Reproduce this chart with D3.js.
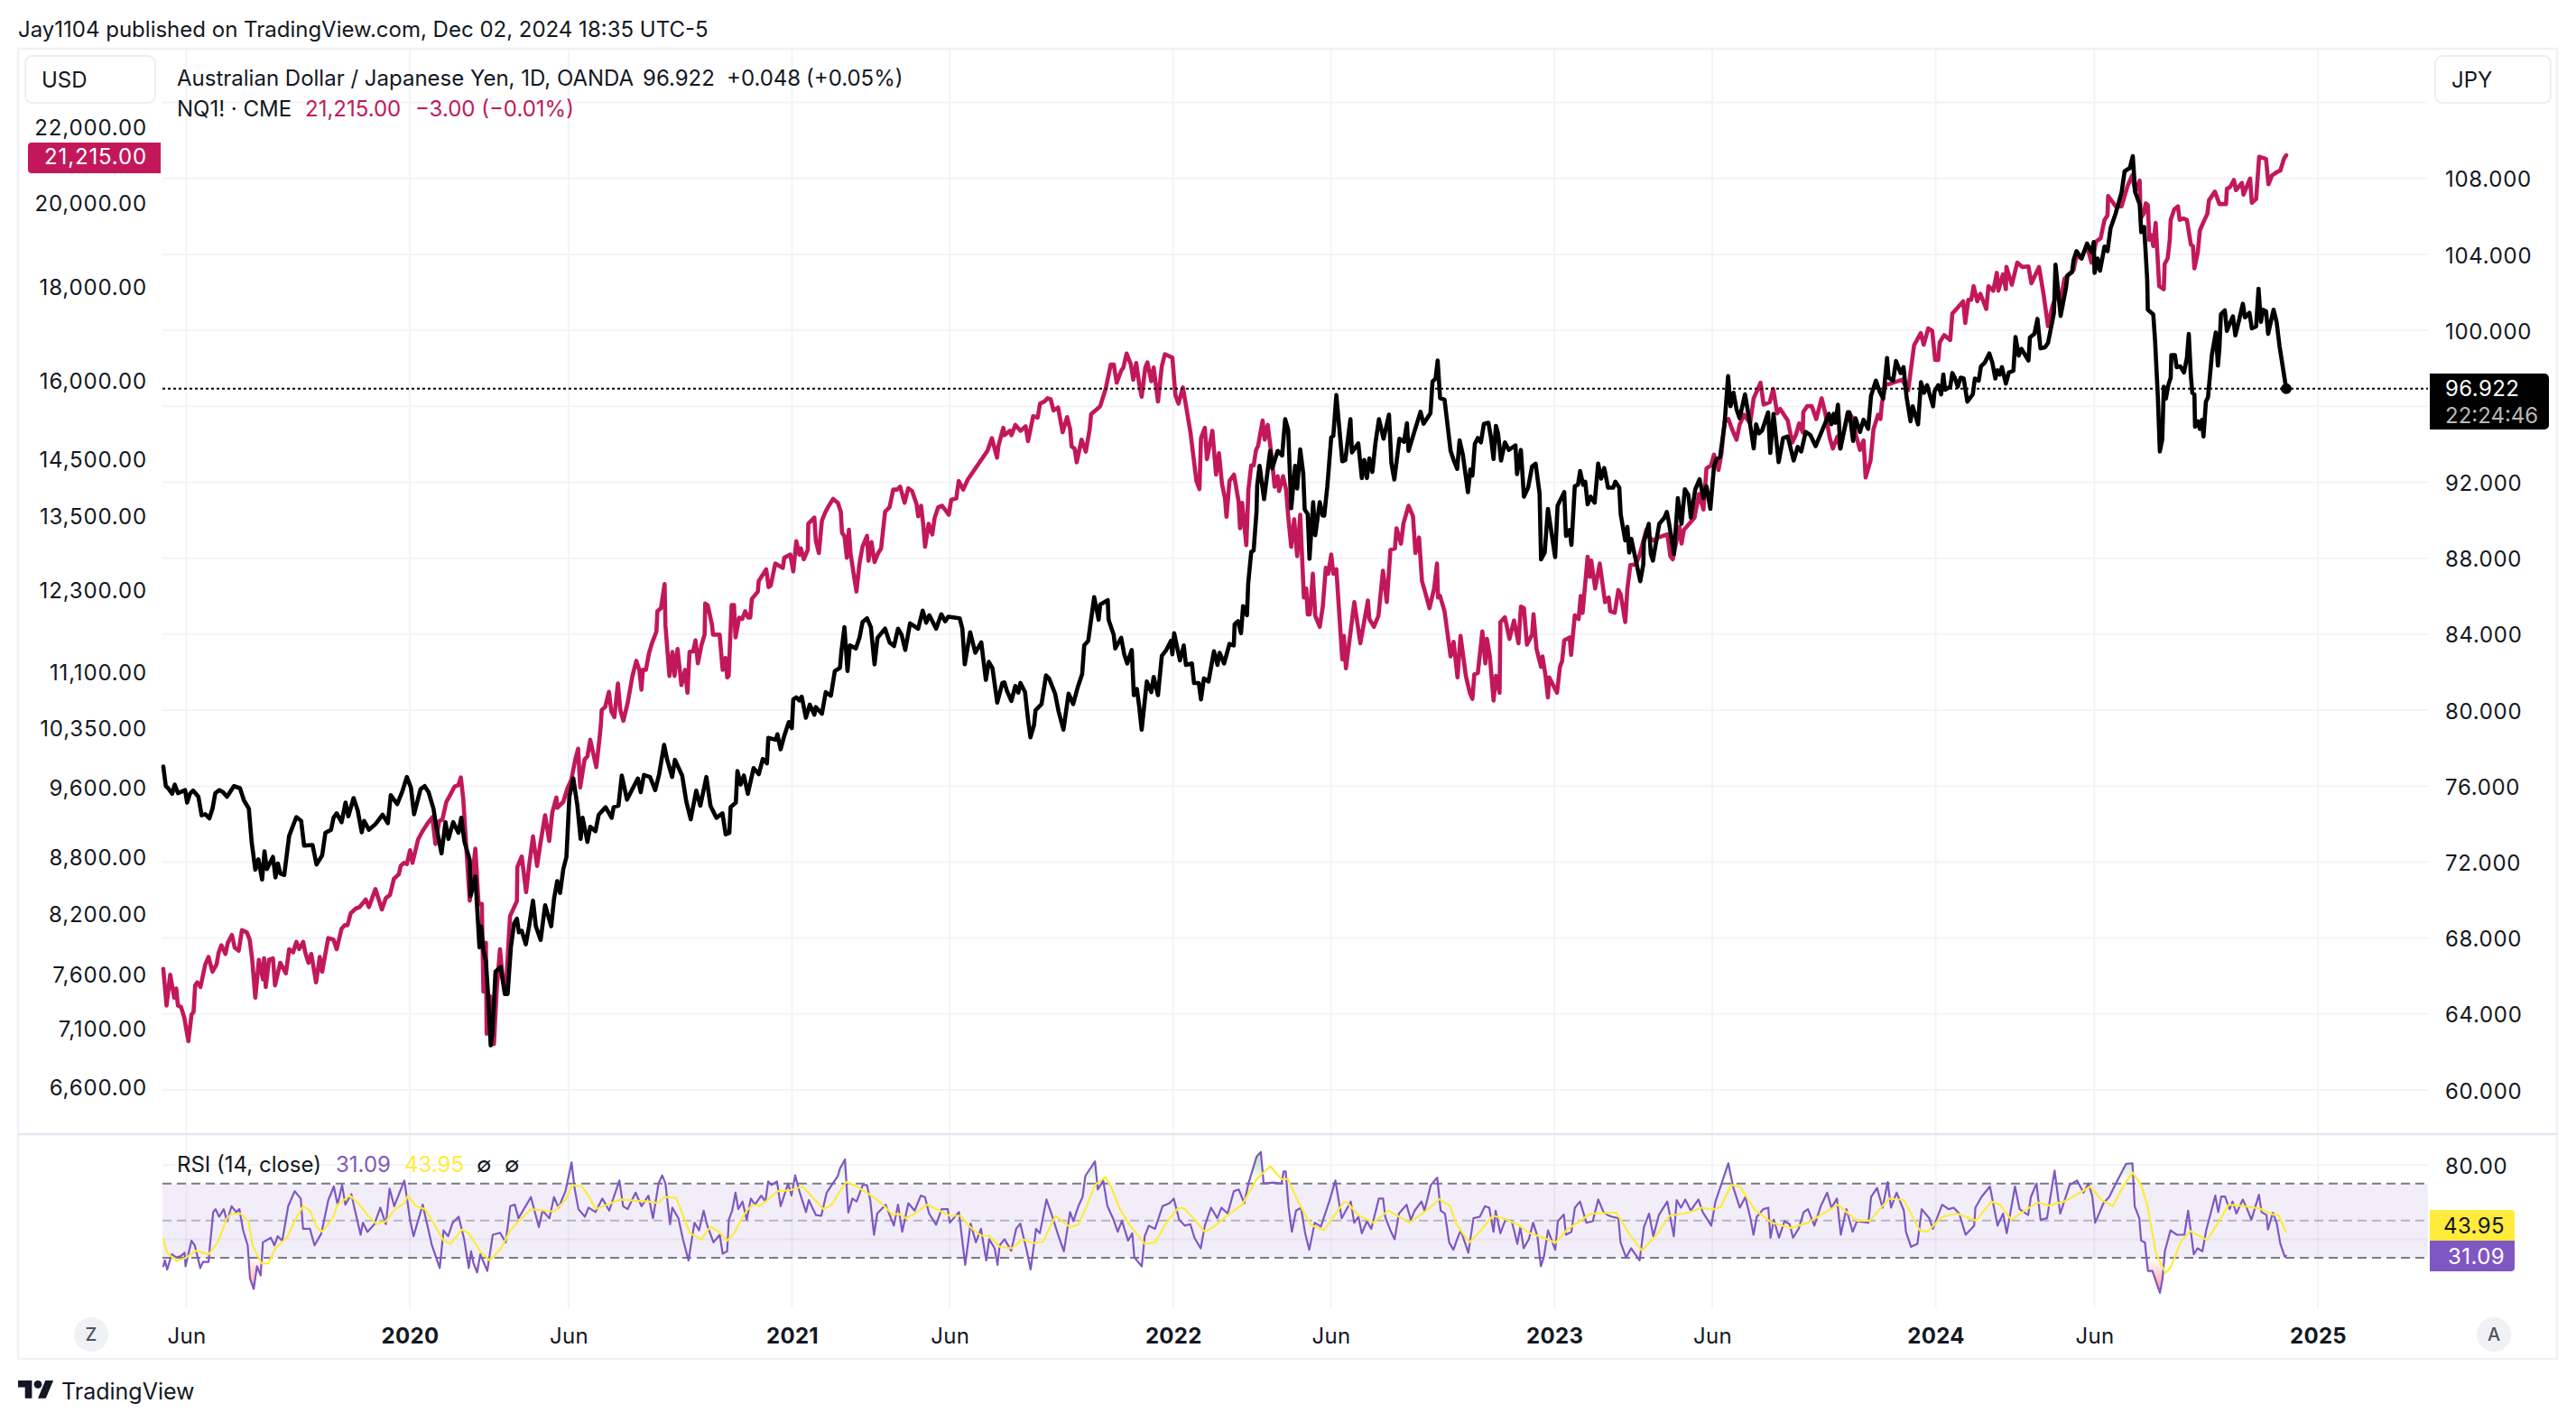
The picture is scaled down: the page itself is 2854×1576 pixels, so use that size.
<!DOCTYPE html>
<html>
<head>
<meta charset="utf-8">
<script src="https://cdn.jsdelivr.net/npm/d3@7"></script>
<style>
  html, body { margin: 0; padding: 0; background: #fff; }
  svg text { font-family: Inter, "Noto Sans", sans-serif; fill: #131722; }
</style>
</head>
<body>
<div id="chart"></div>
<script>
// all series are [days since 2019-05-10, value]
const audjpy = [[0,77.03],[2.4,76],[4.7,75.89],[8.5,75.6],[10.9,76.08],[14,75.63],[20.9,75.79],[22.8,75.13],[25.5,75.6],[28.6,75.76],[33.6,75.44],[36.7,74.46],[40.2,74.52],[44.1,74.3],[47.1,74.81],[49.8,75.63],[53.7,75.79],[57.2,75.68],[61,75.44],[67.6,76],[73.4,75.89],[77.2,75.25],[81.9,74.81],[84.6,73.06],[88.1,71.6],[91.1,72.14],[94.6,71.08],[96.9,72.56],[99.2,71.63],[105,72.27],[107.4,71.19],[109.7,71.92],[112,71.4],[115.8,71.32],[120.5,73.38],[127.4,74.37],[132,74.17],[134.8,72.87],[142.9,72.9],[146.7,71.87],[152.1,72.35],[155.2,73.54],[160.6,73.7],[163,74.33],[166,74.57],[170.7,74.1],[174.5,75.13],[177.2,74.41],[182.2,75.37],[186.1,74.73],[190,73.57],[192.3,74.17],[196.9,73.7],[203.5,74.02],[210,74.49],[215,74.05],[217.8,75.52],[224,75.05],[228.6,75.68],[233.2,76.48],[237.1,75.92],[240.1,74.52],[246.3,75.84],[250.2,76],[254,75.68],[258.7,74.81],[261.4,73.86],[266.4,72.46],[270.2,74.1],[273,73.22],[277.6,74.1],[282.6,73.54],[285.3,74.33],[288.4,73.06],[293.4,72.11],[294.2,70.21],[298.8,71.24],[302.7,67.51],[304.2,68.62],[306.5,67.35],[308.9,66.79],[311.2,64.81],[313.5,62.35],[315,62.9],[318.1,66.24],[323.1,66.48],[327,65.05],[329.7,65.05],[332.8,67.51],[335.9,68.78],[338.6,69.02],[340.5,68.3],[343.2,68.38],[347.1,67.67],[350.2,68.62],[354,69.97],[356.7,68.62],[361.3,67.9],[365.6,69.73],[371.4,68.62],[374.1,70.05],[377.2,71],[379.9,70.37],[383,71.63],[386,72.27],[388.8,75.44],[392.6,76.4],[396.5,74.97],[399.6,73.22],[401.5,74.33],[406.1,73.06],[408.8,73.86],[413.8,73.62],[416.9,74.49],[423.5,74.89],[429.3,74.33],[431.2,74.89],[435.8,74.97],[439,76.56],[444,75.29],[454.4,76.4],[457.1,75.68],[460.2,76.59],[466,76.48],[471,75.79],[474.8,76.63],[479.5,78.17],[482.5,77.38],[487.2,76.48],[489.9,77.38],[496.8,76.56],[500.7,75.21],[505,74.25],[510.3,75.76],[514.2,74.97],[520,76.48],[523.9,74.97],[529.6,74.33],[535.4,74.57],[538.5,73.46],[542,73.54],[543.2,74.89],[548.2,75.13],[549.7,76.79],[552.8,76.08],[555.9,76.56],[559.7,75.6],[565.2,76.95],[570.2,76.63],[574,77.43],[578,77.2],[579.3,78.54],[586.5,78.44],[588,78.73],[591.1,77.94],[594.6,78.65],[598.9,79.37],[601.8,79.05],[603.2,80.56],[606.1,80.67],[609,80.51],[611.3,80.71],[615.3,79.6],[619,80.29],[623.4,79.76],[624.8,80.16],[630.6,79.81],[634.3,80.95],[639.2,80.76],[643,82.06],[647.9,82.22],[649.3,83.1],[652.2,84.37],[655.1,82.06],[657.4,83.41],[663.1,83.25],[666.6,83.81],[669.5,84.63],[673.8,84.84],[677.5,84.37],[681,82.41],[683.9,83.81],[691.1,84.29],[695.4,83.57],[699.7,83.37],[703.5,84.29],[706.9,83.97],[710.4,83.17],[715,84.57],[722.8,84.29],[727.1,85.24],[730.5,84.6],[733.4,85],[740,84.29],[744.9,85.05],[748.7,84.68],[751.6,84.92],[762.5,84.84],[765.1,84.29],[767.4,82.41],[772.6,84.1],[777.5,83.02],[783.2,83.57],[787.6,81.59],[790.4,82.54],[793.9,82.22],[798.5,80.4],[803.4,81.43],[805.4,81.46],[807.7,81.03],[812,80.48],[815.8,81.27],[818.7,80.92],[820.7,81.43],[825.1,80.95],[828,79.52],[830.3,78.57],[833.7,79.21],[835.2,80],[840.9,80.32],[845.2,81.83],[848.1,81.67],[853.9,80.87],[857.3,79.92],[861.9,78.97],[866.8,80.87],[871.2,80.32],[875.5,81.19],[879.8,81.9],[881.8,83.41],[885.6,83.65],[891.3,85.95],[895.6,84.76],[897.1,85.56],[904.3,85.79],[905.1,84.76],[910,83.97],[911.5,83.25],[917.2,83.81],[920.1,82.94],[923,82.46],[927.3,83.17],[929.3,80.79],[932.2,81.11],[934.5,80.16],[936.8,78.97],[941.7,81.51],[946,80.95],[948.3,81.75],[952.4,80.79],[956.1,82.86],[960.4,83.17],[964.8,83.65],[966.2,82.94],[967.9,84.05],[973.4,82.62],[977.1,83.41],[979.2,82.38],[984.9,82.46],[986.9,81.43],[991.5,81.43],[993.6,80.56],[996.4,81.67],[1000.8,81.51],[1006,83.1],[1009.4,82.38],[1011.4,83.02],[1015.7,82.46],[1020.9,83.49],[1025,83.41],[1025.8,84.52],[1029,84.68],[1031.9,84.05],[1033.9,85.48],[1037.6,85],[1038.8,86.67],[1041.7,88.33],[1044,88.41],[1046.8,90.48],[1047.4,91.83],[1049.7,92.86],[1054,91.11],[1059.8,93.65],[1061.8,92.73],[1067,93.65],[1071.3,93.41],[1074.2,95.32],[1077.1,94.76],[1080,90.63],[1083.7,92.86],[1085.7,91.67],[1088.6,93.73],[1091.5,92.46],[1092.9,90.56],[1095.8,90.32],[1097.5,87.97],[1101,90.95],[1103,89.21],[1107.3,90.95],[1110.2,90.24],[1111.6,90.24],[1114.5,91.75],[1118.3,94.37],[1120.3,94.44],[1123.2,96.59],[1128.9,93.1],[1131.8,93.17],[1136.7,95.32],[1138.1,93.57],[1144.2,94.05],[1147.6,92.22],[1149.9,93.17],[1152.5,92.22],[1154.8,93.25],[1157.7,92.54],[1160.6,94.05],[1164,95.32],[1168.4,94.29],[1173.6,95.56],[1175.9,93.02],[1178.7,92.14],[1183.6,94.29],[1188,94.13],[1190.8,95.11],[1192.3,93.65],[1198,94.68],[1203.8,95.71],[1206.7,95.08],[1213.3,95.63],[1215.3,97.3],[1218.2,97.46],[1220.2,98.41],[1222.5,96.43],[1226.8,96.35],[1232.6,93.65],[1235.5,93.17],[1238.9,92.7],[1241.2,94.21],[1244.3,93.46],[1249.2,91.48],[1251.5,92.67],[1253.5,92.35],[1255.8,94.02],[1258.7,94.33],[1261.6,94.1],[1264.5,95.08],[1268.8,95.13],[1271.1,94.41],[1273.7,93.22],[1276,94.97],[1278,94.57],[1280.9,93.14],[1284.6,94.1],[1288.4,93.7],[1294.7,93.94],[1296.2,92.43],[1299.9,93.7],[1302.8,91.24],[1306.8,91.71],[1310.6,92.83],[1314,92.98],[1317.8,91.4],[1319.2,87.94],[1322.7,88.3],[1325.8,90.6],[1332.7,88.06],[1335,90.76],[1341.4,91.48],[1343.1,89.17],[1346.6,89.49],[1348.3,88.7],[1351.5,91.79],[1354.6,91.87],[1356.6,92.59],[1359.5,91.87],[1361.5,92.03],[1363.8,90.84],[1366.7,91.24],[1370.5,90.92],[1373.9,92.98],[1376.8,92.19],[1379.7,92.75],[1383.4,91.71],[1388.3,91.71],[1390.3,92.03],[1394.1,91.71],[1395.5,90.29],[1399.8,88.94],[1401.9,89.65],[1403.6,88.3],[1405.6,89.02],[1414.2,86.79],[1417.1,87.67],[1417.7,88.86],[1422.3,89.81],[1424.3,88.22],[1426.3,87.87],[1432.4,89.81],[1437.3,90.13],[1439.6,90.44],[1441.6,89.89],[1446.5,88.22],[1450.2,91.16],[1453.7,89.81],[1456.9,91.63],[1460.3,91.32],[1462.6,90.13],[1466.9,91.63],[1471,92.16],[1474.7,91.16],[1477.6,91.79],[1481.3,90.6],[1484.8,92.83],[1487.1,93.22],[1490.6,93.33],[1494.9,95.05],[1498.3,97.59],[1500.6,96],[1503.5,96.71],[1506.4,95.84],[1509.3,95.37],[1514.5,96.63],[1519.4,95.05],[1522.8,93.78],[1525.1,95.05],[1528,94.57],[1530.9,94.73],[1536.6,95.68],[1538.7,93.54],[1541.8,95.6],[1546.7,93.06],[1551,94.33],[1555.4,94.41],[1561.1,93.14],[1564.9,93.86],[1568.3,93.62],[1572.6,94.65],[1577,94.49],[1582.1,93.9],[1591.4,95.13],[1594.8,95.6],[1597.1,95.05],[1599.4,95.6],[1600.9,95.13],[1603.5,96.08],[1605.8,93.78],[1613,95.65],[1614.5,95.68],[1618,94.17],[1620.3,95.37],[1624.6,94.65],[1628,95.29],[1632.4,94.81],[1635.2,96.56],[1639.8,97.35],[1643.3,96.79],[1646.8,96.4],[1650.5,98.54],[1652,97.51],[1656.3,97.35],[1659.1,98.38],[1663.5,97.75],[1666.3,98.06],[1669.2,96.48],[1673,95.21],[1675,96],[1680.2,95.05],[1683,97.27],[1685.9,96.71],[1688.8,97.11],[1694.6,96],[1696,96.79],[1699.5,97.11],[1702.3,96.63],[1704.4,97.67],[1706.1,96.87],[1711,97.03],[1713,97.75],[1715.3,97.51],[1718.2,97.03],[1721,97.51],[1723.9,97.46],[1727.4,96.24],[1732.6,96.63],[1734.6,97.46],[1738.3,97.35],[1740.4,98.1],[1744.1,98.3],[1748.4,98.78],[1751.3,98.3],[1754.2,97.46],[1756.2,97.9],[1758.5,97.67],[1760.5,98.06],[1764.3,97.19],[1767.1,97.78],[1771.5,97.87],[1773.5,99.65],[1776.6,98.67],[1779.2,99.02],[1785.9,98.41],[1787.3,99.62],[1791.6,99.81],[1794.5,100.6],[1797.4,99.05],[1801.7,99.1],[1804.6,99.33],[1807.5,100.13],[1810.3,100.92],[1811.8,103.46],[1816.7,100.76],[1821.9,102.27],[1823.3,102.9],[1827.6,103.06],[1829.1,103.7],[1831.9,104.17],[1836.8,103.78],[1842,104.57],[1846.3,104.1],[1848.4,104.65],[1849.2,103.02],[1852.1,103.78],[1854.4,103.14],[1858.7,104.41],[1861.6,104.17],[1864.5,105.37],[1869.4,106.16],[1875.1,107.27],[1878,108.38],[1882.9,108.54],[1885.8,109.17],[1888.1,107.27],[1892.4,106.63],[1893.9,105.17],[1896.7,105.44],[1899.6,102.67],[1900.2,101.08],[1905.4,100.84],[1907.1,99.49],[1909.7,96.63],[1911.7,93.62],[1914,94.25],[1915.5,97.03],[1917.5,96.4],[1919.8,97.11],[1922.1,97.51],[1922.7,98.7],[1926.1,98.7],[1927.8,98.06],[1931.3,98.1],[1934.8,97.78],[1937.6,98.54],[1939.4,99.81],[1941.4,97.59],[1942.8,96.71],[1944.8,96.63],[1945.4,94.92],[1948,95.21],[1950,94.81],[1952,95.29],[1953.5,94.41],[1955.8,96.24],[1957.8,96.48],[1961.5,98.7],[1965.3,99.89],[1967.3,98.14],[1968.7,99.02],[1970.2,100.84],[1973.9,101.05],[1975.9,99.97],[1978.8,100.37],[1981.7,100.73],[1984,99.73],[1987.5,100.52],[1991.2,101.4],[1993.2,100.68],[1997.5,100.92],[1999.8,100.1],[2003.9,100.21],[2006.2,102.19],[2008.5,100.44],[2010.5,101.08],[2013.4,101],[2015.4,99.81],[2020.6,101.08],[2023.5,100.44],[2026.3,99.17],[2032.7,96.922]];

const nq = [[0,7648],[3.1,7304],[6.6,7591],[10.5,7376],[12.4,7462],[14,7304],[17,7290],[20.1,7194],[24,6985],[27,7220],[29,7247],[30.5,7491],[32.5,7519],[35.6,7476],[40.2,7691],[43.3,7763],[47.1,7620],[51,7691],[53,7806],[55.6,7878],[59.5,7792],[61.8,7902],[65.7,7980],[68.4,7854],[72.2,7823],[75.3,8028],[80,8006],[82.7,7933],[85,7749],[88.1,7376],[91.5,7735],[95.4,7548],[96.5,7749],[98.1,7476],[101.2,7735],[105,7749],[107,7491],[112,7706],[117.4,7605],[120.5,7839],[124.3,7808],[127.4,7911],[130.1,7839],[134,7911],[135.9,7808],[139,7706],[141.7,7792],[146.3,7519],[149.8,7763],[152.1,7620],[157.9,7949],[163,7933],[166,7839],[170.7,8043],[173.8,8078],[176.4,8078],[179.5,8201],[184.2,8248],[188,8264],[193.8,8343],[196.9,8264],[203.1,8453],[209.3,8239],[213.1,8358],[217,8390],[220.8,8563],[225.5,8610],[227.4,8705],[230.5,8736],[233.2,8721],[236.3,8874],[238.6,8736],[244,8996],[247.9,9083],[252.5,9169],[257.5,9249],[260.6,8944],[264.1,9204],[267.2,9221],[271,9429],[274.9,9516],[278.7,9610],[282.6,9631],[284.9,9723],[287.2,9464],[290.3,8874],[293.4,8330],[298.8,8892],[301.9,8296],[305,8296],[306.5,7434],[308.9,7902],[309.6,7050],[312.7,7390],[316.6,6959],[319.3,7462],[322.4,7839],[325.1,7548],[328.2,7491],[332,8170],[338.6,8327],[339,8690],[343.2,8805],[347.4,8421],[350.2,8701],[354,9030],[357.9,8701],[361,8944],[365.6,9273],[369.5,8979],[372.5,9308],[376.4,9481],[377.2,9360],[383,9429],[386.8,9585],[390.7,9696],[394.5,9945],[397.2,10079],[399.2,9603],[403.4,9945],[406.1,9983],[408.8,10193],[414.6,9849],[417.7,10212],[418.9,10374],[419.8,10581],[423.2,10623],[426.7,10825],[429,10562],[431.9,10487],[435.3,10938],[437.6,10581],[440.5,10438],[444.8,10686],[449.2,11043],[452.9,11253],[455.8,11127],[457.8,10854],[459.2,11127],[462.1,11127],[465,11358],[467.9,11505],[472.2,11676],[473.1,11976],[476.5,12022],[480,12391],[480.8,11768],[484.6,11043],[487.5,11379],[489.5,11043],[492.4,11421],[496.1,10917],[499.6,11127],[501.9,10812],[503.9,11379],[507.3,11387],[509.6,11547],[511.9,11219],[515.4,11484],[518.3,11630],[518.9,12092],[521.2,12069],[525.5,11768],[526.3,11630],[532.7,11630],[535.6,11127],[538.4,11295],[539.9,11022],[541.3,11043],[544.2,12069],[546.5,12069],[547.9,11589],[551.4,11880],[554.3,11860],[557.2,11976],[560,11880],[562,11880],[563.5,12161],[569.3,12276],[570.1,12438],[577.3,12622],[579.6,12345],[581.6,12368],[586,12714],[593.2,12645],[594.6,12807],[600.4,12858],[603.2,12590],[606.1,13076],[609,12858],[610.4,12959],[613.3,12782],[617.1,12934],[617.6,13365],[623.4,13467],[624.8,13086],[627.7,12883],[630.6,13416],[633.5,13543],[636.4,13645],[641.3,13787],[645.9,13721],[648.7,13568],[649.9,13213],[652.2,13162],[654.5,12807],[656.5,13264],[658,12883],[660.8,12576],[663.7,12276],[666.6,12714],[669.5,12985],[673.8,13162],[675.2,12760],[678.1,13061],[681,12737],[684.5,12883],[687.3,12959],[691.1,13568],[695.4,13645],[698.9,13949],[702.6,13949],[705.5,14000],[709.8,13721],[713.3,13974],[717,13924],[721.3,13695],[722.8,13492],[725.6,13670],[727.7,13340],[729.4,12985],[732.8,13365],[736.3,13187],[738.6,13467],[742,13645],[745.8,13670],[752.1,13517],[754.4,13771],[759.3,13797],[761.6,14102],[765.9,13949],[770.3,14127],[780,14393],[789,14640],[793.4,14879],[798.3,14519],[799.7,14740],[804.3,15073],[805.5,14935],[810.7,15018],[812.1,14935],[815.9,15129],[820.8,15018],[825.7,15101],[828,14824],[832.9,15295],[837.2,15267],[839.5,15538],[843.8,15581],[846.7,15642],[849.6,15624],[852.4,15406],[856.8,15461],[861.1,14990],[865.4,15278],[868.3,15046],[869.7,14725],[872.6,14686],[874.6,14436],[879.2,14851],[883.3,14630],[887,15046],[888.4,15334],[894.2,15434],[897.1,15489],[902.3,15827],[907.2,16318],[910.1,16318],[912.9,15950],[917.2,16195],[919.3,16257],[922.4,16545],[926.5,16318],[928.8,16011],[931.6,16349],[934.5,15919],[936.8,15673],[940.3,16257],[942.3,16361],[946,15980],[948.3,16257],[952.4,15581],[956.1,16287],[959,16533],[966.2,16459],[969.1,15704],[972,15538],[976.3,15857],[983.5,14990],[989.2,14103],[992.1,13959],[993.6,14879],[997.3,15073],[999.3,14492],[1004.5,15018],[1008,14214],[1010.8,14602],[1013.7,14051],[1016.6,13797],[1018,13482],[1020.9,14103],[1025.2,14214],[1029.6,13746],[1031,13289],[1033,13720],[1037,13010],[1039,13949],[1041.7,14380],[1044,14380],[1046.3,14657],[1048.3,14740],[1052.6,15212],[1054.6,14851],[1057.5,15129],[1061.2,14547],[1064.1,14000],[1067,14186],[1068.4,13924],[1072.2,14186],[1075.1,13949],[1077.1,13492],[1080,12985],[1082.8,13441],[1085.7,12832],[1088.6,13517],[1092.1,12184],[1094.4,12322],[1095.8,11930],[1097.8,11930],[1100.7,12553],[1103,11907],[1107.3,11745],[1110.2,12045],[1113.1,12645],[1115.4,12553],[1118.3,12858],[1120.3,12553],[1123.2,12622],[1128.9,11274],[1130.4,11610],[1132.4,11148],[1140.4,12114],[1146.2,11505],[1153.4,12137],[1154.8,11860],[1159.2,11745],[1163.5,11907],[1167.8,12599],[1171.5,12114],[1175,12934],[1179.3,12959],[1180.8,13289],[1185.1,13035],[1187.4,13365],[1192.3,13670],[1196.6,13492],[1198.9,12883],[1202.4,13137],[1205.2,12437],[1208.1,12276],[1212.4,12022],[1216.8,12322],[1219.6,12714],[1220.5,12184],[1222.5,12207],[1226.8,11976],[1232.6,11316],[1235.5,11526],[1239.2,11022],[1242.1,11610],[1247.2,11043],[1251,10812],[1253.5,10728],[1255.3,11064],[1258.7,11085],[1263,11676],[1265.9,11217],[1267.4,11568],[1270.2,11316],[1273.7,10707],[1276,11043],[1279.5,10812],[1280.3,11814],[1284.6,11885],[1289,11568],[1293.3,11837],[1297.6,11505],[1299.9,12045],[1302.8,12022],[1305.7,11484],[1310.6,11630],[1312,11930],[1314.9,11421],[1319.2,11169],[1320.6,11316],[1323.5,11043],[1325.8,10749],[1327,11022],[1334.5,10812],[1337.3,11169],[1339.4,11253],[1341.4,11547],[1346.6,11589],[1348,11337],[1351.5,11915],[1355.2,11860],[1357.2,12206],[1359,11953],[1363.8,12822],[1365.9,12506],[1367.3,12760],[1371,12322],[1375.4,12714],[1380.5,12114],[1384,12184],[1385.4,11976],[1389.8,11953],[1393.2,12299],[1395.5,12230],[1399.8,11814],[1401.9,12322],[1404.7,12691],[1409.9,12700],[1413.7,12858],[1420,13264],[1422.9,13137],[1427.2,13086],[1431.5,13137],[1440.2,13188],[1443,12832],[1445.3,12782],[1451.7,13315],[1453.7,13036],[1456,13264],[1466.1,13467],[1470.4,13873],[1474.7,13605],[1477.6,14325],[1481.9,14380],[1484.8,14574],[1489.1,14297],[1492,14602],[1494.9,15184],[1498.6,15239],[1502.1,15046],[1506.4,14851],[1509.3,15129],[1513.6,15323],[1519.4,15157],[1522.8,15642],[1529.4,15950],[1532.3,15520],[1538.1,15563],[1541.5,15827],[1545.3,15350],[1548.2,15434],[1555.4,15212],[1559.7,14796],[1563.1,14935],[1566.3,15157],[1569.8,14990],[1570.3,15378],[1574.1,15489],[1578.4,15489],[1582.7,15240],[1587.9,15642],[1591.4,15350],[1595.7,14879],[1598.6,14686],[1602.9,14907],[1605.8,14686],[1613,15378],[1617.4,15268],[1620.3,14965],[1624.6,14662],[1628,14838],[1630,14164],[1634.7,14468],[1637.5,15047],[1641.9,15323],[1644.2,15241],[1645.6,15550],[1649.1,15919],[1652,15919],[1664.9,16011],[1670.7,15796],[1676.4,16717],[1682.8,16975],[1685.6,16729],[1690,17077],[1693.7,17024],[1696.6,16410],[1699.5,16410],[1700.9,16778],[1705.2,16932],[1711,16827],[1713,17394],[1719.6,17563],[1723.4,17665],[1725.4,17191],[1728.3,17699],[1731.1,17699],[1733.4,18003],[1736.9,17665],[1739.8,17834],[1745.5,17496],[1747.6,18003],[1752.2,17901],[1755.6,18306],[1757.1,17901],[1761.4,18273],[1764.3,17935],[1764.8,18442],[1770,18036],[1775.2,18543],[1780.1,18442],[1785.9,18455],[1788.7,18070],[1796,18442],[1800.3,17834],[1804.6,17124],[1808.9,17563],[1813.2,17834],[1816.1,17630],[1820.4,18171],[1829.1,18374],[1832,18712],[1836.3,18645],[1842,18932],[1846.3,18543],[1850.7,19044],[1855,19119],[1858.7,19564],[1861.6,19676],[1862.2,20159],[1869.4,19899],[1875.1,19899],[1880.9,20419],[1885.2,20686],[1888.1,20270],[1892.4,20553],[1893.3,19601],[1896.2,19713],[1898.2,19973],[1900.2,19936],[1901.6,19081],[1903.9,19192],[1905.4,18932],[1907.7,19490],[1911.1,18003],[1915.5,17935],[1916.3,18509],[1919.2,18645],[1921.2,19081],[1922.1,19564],[1925.5,19824],[1929,19899],[1930.7,19564],[1934.2,19601],[1937.6,19564],[1941.4,18969],[1943.4,18932],[1944.8,18408],[1948,18784],[1950,19304],[1953.8,19527],[1957.2,19713],[1958.7,20047],[1964.4,20270],[1968.7,19958],[1975.1,19958],[1975.9,20344],[1978.8,20382],[1982.6,20567],[1984.6,20307],[1990.3,20493],[1991.8,20196],[1998.1,20605],[1999.8,19988],[2003.9,20084],[2006.8,21175],[2013.4,21118],[2015.7,20456],[2019.1,20686],[2023.5,20767],[2027,20808],[2030.7,21135],[2032.7,21215]];

const rsi = [[0,25.4],[1.5,28.6],[3.7,23.7],[8.1,31.9],[12.5,30.2],[16.9,31],[20.4,32.7],[21.3,25.4],[27,39.2],[30.1,36.7],[35.4,24.5],[38.1,27.8],[43.4,27.8],[44.7,36.7],[47.8,54.6],[50,56.2],[53.5,52.1],[57.9,56.2],[61,49.7],[65.4,57.8],[69.8,54.6],[72.9,56.2],[76.4,44.8],[80.8,36.7],[83,18.9],[86.6,13.2],[89.7,25.4],[93.2,20.5],[95.4,38.3],[102.9,40.8],[106.4,36.7],[109.5,41.6],[113.9,39.2],[119.6,57.8],[125.8,65.9],[131.6,61.9],[133.8,45.6],[140.4,45.6],[144.8,36.7],[151.4,43.2],[158,61.1],[163.3,68.4],[166.8,58.6],[171.2,69.2],[174.3,58.6],[180,64.3],[188.9,42.4],[191.1,48.9],[195.5,44],[202.1,48.1],[207.8,57],[213.1,48.1],[216.7,67.2],[221.1,57.8],[230.8,71.6],[236.5,49.7],[239.6,41.6],[248.4,58.6],[257.2,36.7],[264.7,24.5],[268.3,44.8],[272.7,41.6],[277.1,48.9],[282.8,52.1],[288.1,40],[292.5,24.5],[294.7,33.5],[297,27],[300.5,22.1],[303.5,31.9],[310.2,22.9],[315.5,42.4],[322.5,43.5],[327.8,38.3],[332.2,57.8],[336.6,58.6],[340.1,51.3],[352,62.7],[359.6,46.5],[363.1,55.4],[369.7,51.3],[374.1,62.7],[378.5,57],[385.1,65.9],[390.9,81.4],[394,66.8],[397.5,56.2],[403.7,52.1],[407.2,57],[413.8,54.6],[420.4,61.9],[427,55.4],[436.7,71.6],[440.3,57.8],[444.7,56.2],[452.2,65.1],[457.9,57.8],[464.5,63.5],[468.9,51.3],[474.2,70],[477.7,74.4],[480.8,70],[485.2,48.1],[487.4,57],[493.2,51.3],[497.6,40],[502.9,28.6],[508.6,48.9],[513,44.8],[517.4,55.4],[520.9,47.3],[526.8,38.3],[532.8,42.4],[535.6,32.2],[539.9,33.5],[541.5,50.5],[544.7,55.4],[547.9,65.1],[550.6,56.2],[554.6,60.3],[558.6,50.5],[562.6,61.9],[566.5,58.6],[572.5,63.5],[576.5,60.3],[579.2,71.1],[582.4,69.2],[587.6,71.1],[591.1,57.8],[598.3,70],[601.5,63.5],[605,74.4],[609,65.9],[615.4,54.6],[618.1,61.1],[622.1,56.2],[624.9,53],[630,52.6],[635.2,65.1],[640,69.2],[645.9,74.1],[647.9,78.1],[652.7,83],[655.9,54.3],[659.8,61.9],[663.8,60.3],[669.7,69.2],[673.7,69.2],[676.9,61.1],[680.5,42.4],[683.6,53.8],[691.6,58.6],[699.5,47.3],[703.5,58.6],[707.5,44],[713.4,59.4],[719.4,55.4],[725.3,63.5],[729.3,62.7],[733.3,53.8],[740,47.8],[745.2,56.2],[751.1,56.2],[753.1,48.9],[761.8,54.6],[767.8,26.2],[773,48.4],[778.1,38.3],[782.9,45.6],[788,28.6],[790.8,40],[796,35.1],[798.8,26.2],[800.8,36.7],[805.5,40],[811.9,33.8],[816.6,45.6],[820.6,48.4],[826.6,34.3],[830.5,23.7],[835.7,45.6],[839.3,43.2],[845.6,61.4],[850.4,53.8],[856.3,43.2],[862.3,33.5],[868.2,54.6],[871.4,49.7],[876.2,57.8],[880.2,62.7],[882.9,74.1],[892.1,81.9],[894.8,66.8],[900,71.6],[904,57.8],[909.9,50.5],[913.9,44],[917.9,50],[923.8,39.2],[927.8,43.2],[929.8,30.2],[936.9,25.4],[939.7,41.6],[943.7,47.3],[949.6,45.6],[956.8,57.8],[963.5,59.4],[967.5,61.9],[972.7,50.5],[978.2,47.3],[983.4,48.1],[987.3,40.8],[993.3,35.1],[997.3,47.3],[1003.2,57],[1009.2,51.3],[1013.2,57],[1019.1,53.8],[1025.1,65.9],[1029.8,66.8],[1035,59.4],[1039,70],[1046.9,84.6],[1050.9,87],[1053.6,70],[1062.8,70.5],[1070.7,70],[1072.7,76.5],[1074.7,76.5],[1077.5,57],[1080.6,44],[1084.6,55.4],[1089.4,57],[1093.3,43.2],[1097.3,34.3],[1102.5,48.9],[1108.4,46.8],[1116.4,60.3],[1122.3,71.6],[1128.3,51.3],[1137,60.3],[1140.3,48.9],[1144.3,52.1],[1147.6,43.2],[1152.5,49.7],[1156.6,45.6],[1163.9,61.9],[1168,61.9],[1170,52.1],[1174.9,44.8],[1179,40],[1183.1,53.8],[1190.4,58.6],[1194.5,50.5],[1198.2,55.4],[1204.7,60.3],[1207.6,55.4],[1213.7,69.2],[1219.8,73.2],[1223.1,55.4],[1227.2,53.8],[1231.2,38.3],[1235.3,34.3],[1239.4,40.8],[1242.3,44.8],[1249.6,32.7],[1254.5,51.3],[1260.6,52.1],[1265.5,57.8],[1269.6,57],[1273.7,44],[1275.7,55.4],[1280.2,43.2],[1285.1,50.5],[1291.2,49.7],[1296.5,37.5],[1299.4,46.5],[1302.6,35.1],[1307.5,40],[1311.6,48.9],[1315.7,41.6],[1319,25.4],[1321.8,30.2],[1325.9,44.8],[1332.8,34.3],[1335.3,49.7],[1341,53.3],[1343,42.4],[1348.3,44],[1351.6,57],[1356.5,60.3],[1362.6,48.9],[1368.7,49.7],[1374,61.4],[1379,54.6],[1383,53],[1387.1,52.1],[1393.2,51.3],[1395.3,38.3],[1400.6,30.2],[1405.5,35.1],[1413.6,28.6],[1417.7,46.5],[1422.6,53.8],[1426.7,41.6],[1432,53],[1440.1,60.3],[1446.3,41.6],[1449.1,61.1],[1453.2,57],[1457.3,61.4],[1462.6,55.4],[1469.9,61.4],[1474,54.6],[1482.2,47.3],[1486.2,60.3],[1491.1,68.4],[1498.5,80.9],[1503.4,67.6],[1509.5,57],[1514.8,62.7],[1519.7,51.3],[1522.6,42.4],[1525.8,52.1],[1532,56.2],[1536.8,57],[1538.9,40.8],[1542.1,50.5],[1547,40.8],[1552.3,49.7],[1557.2,48.1],[1560.5,40.8],[1565.8,45.6],[1570.7,54.6],[1574.8,56.2],[1580.9,47.3],[1587,57.8],[1593.2,65.1],[1597.2,57],[1602.5,61.9],[1606.2,42.4],[1611.5,56.2],[1617.6,44],[1621.7,49.7],[1632.7,48.9],[1635.2,62.7],[1640.9,67.6],[1646.2,57],[1651.1,70.8],[1654.3,57],[1659.6,65.1],[1666.6,55.4],[1668.6,44],[1673.5,35.9],[1679.6,37.5],[1683.7,56.2],[1691,51.3],[1694.3,45.6],[1703.3,58.6],[1709.4,56.2],[1714.3,57],[1719.6,53.8],[1725.7,42.4],[1733.9,47.3],[1735.1,57],[1740.8,62.7],[1749,68.4],[1756.3,47.3],[1761.6,53.8],[1765.1,43.2],[1773,68.4],[1777.4,56.2],[1785.6,53],[1788.2,62.7],[1793.6,70],[1797.5,50.5],[1803.7,51.3],[1810.9,77],[1816.3,53.8],[1825.3,69.2],[1832.5,71.6],[1838.6,65.1],[1843.3,70],[1846.9,63.5],[1849.8,48.9],[1854.1,54.6],[1857.7,59.4],[1863.1,62.7],[1870.3,70.8],[1879.3,80.6],[1885.5,80.9],[1887.6,57.8],[1892,51.3],[1893.8,39.2],[1897.4,38.3],[1900.3,22.9],[1904.6,22.9],[1911.8,11.1],[1914.3,18.9],[1916.5,33.5],[1921.9,44.8],[1928,42.4],[1935.2,42.4],[1938.8,55.4],[1944.2,31.9],[1947.8,35.1],[1952.5,33.5],[1956.1,44.8],[1964.8,63.5],[1967.6,54.6],[1970.5,63],[1974.1,63],[1978.5,56.2],[1981.3,60.3],[1985,53.8],[1991.1,61.4],[1994.7,57],[1999.4,50.5],[2006.6,64],[2009.1,54.6],[2013.8,53],[2015.2,45.2],[2019.9,54.3],[2023.5,48.9],[2027.1,37.5],[2031.4,30.6],[2032.5,31.09]];

const rsiSignal = [[0,40],[3.7,32.7],[12.5,28.3],[21.3,29.9],[31.4,33.8],[43.4,31.9],[52.2,38.3],[61,51.3],[65.4,53.8],[74.2,53.8],[81.7,49.7],[85.3,36.7],[94.1,27],[100.7,27],[107.3,35.1],[118.3,40.8],[127.1,51.3],[133.8,57.8],[140.4,55.4],[147,46.5],[152.3,44],[162.4,51.3],[166.8,58.6],[178.7,63.5],[186.7,59.4],[195.5,53],[204.3,48.1],[213.1,49.7],[221.9,56.2],[230.8,59.4],[234.3,63.5],[241.8,57.8],[250.6,56.2],[259.4,48.1],[268.3,39.2],[274.9,37.5],[285.9,45.2],[292.5,43.2],[303.5,33.5],[312.4,28.6],[323.4,35.1],[332.2,44.8],[343.2,51.3],[352,56.2],[365.3,55.4],[374.1,54.9],[385.1,61.1],[391.7,69.2],[400.6,68.4],[407.2,63.5],[413.8,56.2],[424.8,58.6],[438,61.4],[453.5,60.7],[464.5,60.3],[473.3,59.4],[479.9,62.7],[490.9,62.4],[497.6,53],[504.2,43.2],[515.2,40],[524,46.8],[532,44],[539.9,39.2],[546.7,43.2],[552.6,49.7],[558.6,55.4],[564.5,58.6],[570.5,57.8],[578.4,61.1],[588.4,65.9],[600.3,66.4],[612.2,68.4],[620.1,63.5],[632,56.2],[640,58.6],[647.9,65.9],[653.9,70.8],[663.8,68.4],[675.7,64.3],[687.6,59.4],[698.7,53],[703.5,53.8],[711.4,51.3],[719.4,53.8],[731.3,58.6],[743.2,55.4],[753.1,52.6],[763.8,52.6],[771,47.3],[782.9,41.9],[790.8,41.9],[800.8,35.9],[812.7,35.1],[822.6,40],[832.5,37.9],[842.4,38.7],[854.4,52.6],[868.2,46.5],[876.2,47.8],[884.1,57.8],[892.1,69.2],[902,73.6],[907.9,67.6],[915.9,56.2],[925.8,47.3],[939.7,37.5],[949.6,38.3],[959.6,48.1],[971.5,56.7],[977.4,56.7],[987.3,50.5],[997.3,44],[1007.2,47.3],[1019.1,53],[1033,58.6],[1046.9,72.4],[1060,79.3],[1070.7,72.4],[1076.7,72.4],[1086.6,60.3],[1098.5,47.8],[1111.2,44.8],[1120.4,52.1],[1130.3,59.9],[1133.3,59.9],[1144.3,53],[1158.6,48.9],[1172.9,55.4],[1193.3,48.9],[1207.6,54.6],[1221.9,61.6],[1232.1,57.8],[1238.2,48.1],[1250.4,38.3],[1260.6,44],[1272.9,52.6],[1283.1,51.3],[1297.3,47.8],[1307.5,43.5],[1321.8,40.8],[1332.8,38],[1344.3,45.2],[1366.7,53.8],[1391.2,54.3],[1403.4,43.2],[1415.7,33.8],[1429.9,42.4],[1442.2,52.6],[1460.5,54.3],[1472.8,57],[1483,55.9],[1491.1,57.3],[1501.3,69.2],[1509.5,68.4],[1523.8,55.9],[1540.1,48.9],[1558.5,46.1],[1574.8,48.9],[1603.3,58.6],[1621.7,50],[1633.9,50],[1652.3,61.9],[1666.6,61.1],[1681.7,44.8],[1689,44],[1703.3,52.1],[1717.6,53.8],[1736,50],[1750.2,60.3],[1758.6,58.6],[1769.4,50.5],[1780.2,54.6],[1794.7,59.8],[1805.5,58.1],[1819.9,60.3],[1830.7,63.5],[1845.1,68.4],[1855.9,61.1],[1866.7,57.8],[1875.7,67.6],[1885.5,76],[1893.8,69.2],[1899.9,57.8],[1908.2,31.9],[1917.2,21.8],[1922.6,25.4],[1931.6,38.3],[1940.6,44.5],[1956.8,39.6],[1964,45.6],[1977.7,58.6],[1996.5,57.5],[2007.3,56.5],[2019.9,53.3],[2025.3,53],[2032.5,43.95]];

const jpyGrid = [112,108,104,100,96,92,88,84,80,76,72,68,64,60];
// 96.000 sits behind the last-price tag in the reference, so it gets no label
const jpyTicks = [112,108,104,100,92,88,84,80,76,72,68,64,60];
const usdTicks = [22000,20000,18000,16000,14500,13500,12300,11100,10350,9600,8800,8200,7600,7100,6600];
const rsiTicks = [80];
const rsiGrid = [80,40];
const timeTicks = ["2019-06-01","2020-01-01","2020-06-01","2021-01-01","2021-06-01","2022-01-01","2022-06-01","2023-01-01","2023-06-01","2024-01-01","2024-06-01","2025-01-01"];

const WIDTH = 2854, HEIGHT = 1576;
const plot = {left: 180, right: 2690};
const INK = "#131722", PINK = "#c2185b", PURPLE = "#7e57c2", YELLOW = "#ffeb3b", GRID = "#f3f4f6", FRAME = "#eff1f5";

const startDate = Date.UTC(2019, 4, 10);
const dateOf = d => new Date(startDate + d * 864e5);

const x = d3.scaleUtc()
    .domain([new Date("2020-01-01"), new Date("2025-01-01")])
    .range([454, 2568]);
const yJpy = d3.scaleLinear().domain([60, 108]).range([1208, 197.7]);
const yUsd = d3.scaleLog().domain([6600, 22000]).range([1204, 140]);
const yRsi = d3.scaleLinear().domain([30, 70]).range([1394, 1311.7]);

const svg = d3.select("#chart").append("svg")
    .attr("width", WIDTH)
    .attr("height", HEIGHT)
    .style("display", "block");

const defs = svg.append("defs");
const gradient = (id, y1, y2, stops) => {
    const g = defs.append("linearGradient").attr("id", id).attr("gradientUnits", "userSpaceOnUse")
        .attr("x1", 0).attr("x2", 0).attr("y1", y1).attr("y2", y2);
    stops.forEach(([o, c, a]) => g.append("stop").attr("offset", o).attr("stop-color", c).attr("stop-opacity", a));
};
gradient("overbought", yRsi(88), yRsi(70), [[0, "#4caf50", 0.4], [1, "#4caf50", 0]]);
gradient("oversold", yRsi(30), yRsi(11), [[0, "#ff5252", 0], [1, "#ff5252", 0.6]]);
defs.append("clipPath").attr("id", "clip-over").append("rect")
    .attr("x", plot.left).attr("width", plot.right - plot.left).attr("y", 1258).attr("height", yRsi(70) - 1258);
defs.append("clipPath").attr("id", "clip-under").append("rect")
    .attr("x", plot.left).attr("width", plot.right - plot.left).attr("y", yRsi(30)).attr("height", 1450 - yRsi(30));

// grid
const hLine = (y, color, width) => svg.append("line")
    .attr("x1", plot.left).attr("x2", plot.right).attr("y1", y).attr("y2", y)
    .attr("stroke", color).attr("stroke-width", width);

jpyGrid.forEach(t => hLine(yJpy(t), GRID, 2));

svg.append("g").selectAll("line")
    .data(timeTicks)
    .join("line")
    .attr("x1", d => x(new Date(d))).attr("x2", d => x(new Date(d)))
    .attr("y1", 54).attr("y2", 1450)
    .attr("stroke", GRID).attr("stroke-width", 2);

// rsi band
svg.append("rect")
    .attr("x", plot.left).attr("width", plot.right - plot.left)
    .attr("y", yRsi(70)).attr("height", yRsi(30) - yRsi(70))
    .attr("fill", PURPLE).attr("fill-opacity", 0.1);
rsiGrid.forEach(t => hLine(yRsi(t), t === 80 ? GRID : "rgba(42,46,57,0.06)", 2));
hLine(yRsi(70), "#787b86", 2).attr("stroke-dasharray", "10 6");
hLine(yRsi(50), "#787b86", 2).attr("stroke-opacity", 0.5).attr("stroke-dasharray", "10 6");
hLine(yRsi(30), "#787b86", 2).attr("stroke-dasharray", "10 6");

// frame
svg.append("rect")
    .attr("x", 20).attr("y", 54).attr("width", 2813).attr("height", 1452)
    .attr("fill", "none").attr("stroke", FRAME).attr("stroke-width", 2.5);
svg.append("line")
    .attr("x1", 20).attr("x2", 2833).attr("y1", 1257).attr("y2", 1257)
    .attr("stroke", "#e3e6ee").attr("stroke-width", 2.5);

// axes
const styleAxis = (g, size, spacing) => {
    g.select(".domain").remove();
    g.selectAll("text").attr("dy", "0.38em").style("font-size", size + "px").style("letter-spacing", spacing + "px");
};
const FS = 24;

svg.append("g")
    .attr("transform", "translate(173,0)")
    .call(d3.axisLeft(yUsd).tickValues(usdTicks).tickSize(0).tickPadding(10).tickFormat(d3.format(",.2f")))
    .call(g => styleAxis(g, FS, 0.85));

svg.append("g")
    .attr("transform", `translate(${plot.right},0)`)
    .call(d3.axisRight(yJpy).tickValues(jpyTicks).tickSize(0).tickPadding(19).tickFormat(d3.format(".3f")))
    .call(g => styleAxis(g, FS, 0.7));

// 112.000 is hidden behind the JPY button apart from its last pixels
svg.append("rect").attr("x", plot.right + 2).attr("y", 56).attr("width", 140).attr("height", 67.5).attr("fill", "#fff");

svg.append("g")
    .attr("transform", `translate(${plot.right},0)`)
    .call(d3.axisRight(yRsi).tickValues(rsiTicks).tickSize(0).tickPadding(19).tickFormat(d3.format(".2f")))
    .call(g => styleAxis(g, FS, 0.7));

svg.append("g")
    .attr("transform", "translate(0,1476)")
    .call(d3.axisBottom(x).tickValues(timeTicks.map(d => new Date(d))).tickSize(0).tickPadding(0)
        .tickFormat(d => d.getUTCMonth() === 0 ? d3.utcFormat("%Y")(d) : d3.utcFormat("%b")(d)))
    .call(g => styleAxis(g, FS, 0.3))
    .call(g => g.selectAll("text")
        .attr("y", 0).attr("dy", "0.55em")
        .style("font-weight", d => d.getUTCMonth() === 0 ? 700 : 400));

// series
const seriesLine = (scale) => d3.line().x(d => x(dateOf(d[0]))).y(d => scale(d[1]));

const drawSeries = (data, scale, color, width) => svg.append("path")
    .datum(data)
    .attr("fill", "none")
    .attr("stroke", color)
    .attr("stroke-width", width)
    .attr("stroke-linejoin", "round")
    .attr("stroke-linecap", "round")
    .attr("d", seriesLine(scale));

// overbought / oversold shading
const rsiArea = level => d3.area().x(d => x(dateOf(d[0]))).y0(yRsi(level)).y1(d => yRsi(d[1]));
svg.append("path").datum(rsi).attr("clip-path", "url(#clip-over)")
    .attr("fill", "url(#overbought)").attr("d", rsiArea(70));
svg.append("path").datum(rsi).attr("clip-path", "url(#clip-under)")
    .attr("fill", "url(#oversold)").attr("d", rsiArea(30));

drawSeries(rsi, yRsi, PURPLE, 2.2);
drawSeries(rsiSignal, yRsi, YELLOW, 2.2);
drawSeries(nq, yUsd, PINK, 4.6);

const last = audjpy[audjpy.length - 1];
svg.append("line")
    .attr("x1", plot.left).attr("x2", plot.right)
    .attr("y1", yJpy(last[1])).attr("y2", yJpy(last[1]))
    .attr("stroke", "#000").attr("stroke-width", 2).attr("stroke-dasharray", "3 3");
drawSeries(audjpy, yJpy, "#000", 4.6);
svg.append("circle")
    .attr("cx", x(dateOf(last[0]))).attr("cy", yJpy(last[1])).attr("r", 6).attr("fill", "#000");

// text helper
const label = (txt, xp, yp, opts = {}) => svg.append("text")
    .attr("x", xp).attr("y", yp)
    .attr("dominant-baseline", "central")
    .attr("text-anchor", opts.anchor || "start")
    .style("font-size", (opts.size || FS) + "px")
    .style("font-weight", opts.weight || 400)
    .style("letter-spacing", (opts.spacing || 0) + "px")
    .style("fill", opts.fill || INK)
    .text(txt);

// price tags
svg.append("path").attr("fill", PINK)
    .attr("d", "M178 158H35a4 4 0 0 0 -4 4V188a4 4 0 0 0 4 4H178Z");
label("21,215.00", 163, yUsd(21215) + 1, {anchor: "end", fill: "#fff", spacing: 0.85});

svg.append("path").attr("fill", "#000")
    .attr("d", "M2692 414H2819a5 5 0 0 1 5 5V471a5 5 0 0 1 -5 5H2692Z");
label("96.922", 2709, 430, {fill: "#fff", spacing: 0.4});
label("22:24:46", 2709, 460, {fill: "#b8b8b8"});

svg.append("path").attr("fill", YELLOW)
    .attr("d", "M2692 1341H2782a4 4 0 0 1 4 4V1375H2692Z");
label("43.95", 2775, 1358, {anchor: "end", fill: "#131722", spacing: 0.4});
svg.append("path").attr("fill", PURPLE)
    .attr("d", "M2692 1375H2786V1405a4 4 0 0 1 -4 4H2692Z");
label("31.09", 2775, 1392, {anchor: "end", fill: "#fff", spacing: 0.4});

// currency buttons
const button = (bx, by, bw, bh, txt) => {
    svg.append("rect").attr("x", bx).attr("y", by).attr("width", bw).attr("height", bh).attr("rx", 8)
        .attr("fill", "#fff").attr("stroke", "#eceef3").attr("stroke-width", 2);
    label(txt, bx + 18, by + bh / 2);
};
button(28, 62, 144, 52, "USD");
button(2698, 62, 128, 52, "JPY");

// legends
label("Jay1104 published on TradingView.com, Dec 02, 2024 18:35 UTC-5", 20, 32);
label("Australian Dollar / Japanese Yen, 1D, OANDA", 196, 86);
label("96.922", 712, 86);
label("+0.048", 805, 86);
label("(+0.05%)", 893, 86);
label("NQ1! · CME", 196, 120);
label("21,215.00", 338, 120, {fill: PINK});
label("−3.00 (−0.01%)", 460, 120, {fill: PINK});
label("RSI (14, close)", 196, 1290);
label("31.09", 372, 1290, {fill: PURPLE});
label("43.95", 448, 1290, {fill: YELLOW});
label("∅", 528, 1290);
label("∅", 559, 1290);

// scale mode buttons
[[101, "Z"], [2763, "A"]].forEach(([cx, t]) => {
    svg.append("circle").attr("cx", cx).attr("cy", 1479).attr("r", 19).attr("fill", "#f0f1f5");
    label(t, cx, 1479, {anchor: "middle", size: 20, weight: 500, fill: "#50535e"});
});

// TradingView mark
svg.append("g").attr("transform", "translate(20,1525.5) scale(1.1)")
    .call(g => {
        g.append("path").attr("fill", INK).attr("d", "M14 22H7V11H0V4h14v18zM28 22h-8l7.5-18h8L28 22z");
        g.append("circle").attr("fill", INK).attr("cx", 20).attr("cy", 8).attr("r", 4);
    });
label("TradingView", 68, 1542, {size: 25});
</script>
</body>
</html>
